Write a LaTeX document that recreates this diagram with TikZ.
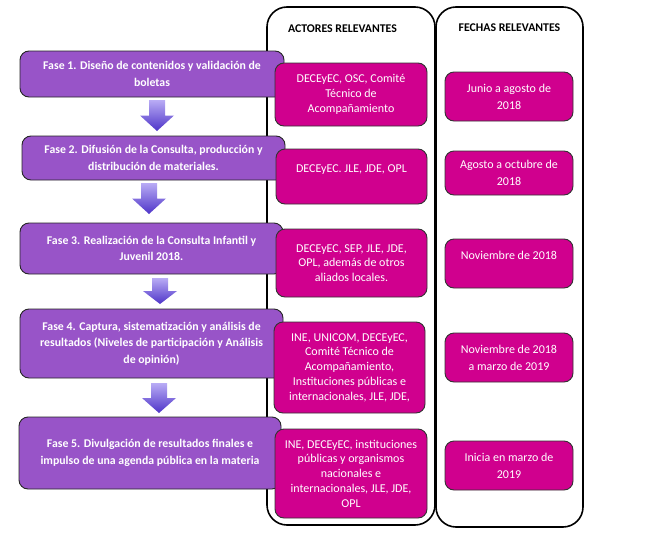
\documentclass[tikz,border=0pt]{standalone}
\usepackage{fontspec}
\setmainfont{Carlito}
\usetikzlibrary{calc}
\definecolor{fasepurple}{RGB}{152,84,200}
\definecolor{actmag}{RGB}{208,0,142}
\definecolor{arrtop}{RGB}{185,172,245}
\definecolor{arrbot}{RGB}{78,52,200}
\tikzset{
  fasebox/.style={draw=black!85, line width=0.9pt, fill=fasepurple, rounded corners=9pt,
    text=white, font=\fontsize{11.8}{16.5}\selectfont\bfseries, align=center, inner sep=0pt},
  magbox/.style={draw=black!80, line width=0.9pt, fill=actmag, rounded corners=9pt,
    text=white, font=\fontsize{12}{14.8}\selectfont, align=center, inner sep=0pt},
  datebox/.style={magbox, font=\fontsize{12}{17}\selectfont, minimum width=128pt},
  colbox/.style={draw=black, line width=1.6pt, fill=white, rounded corners=20pt, inner sep=0pt},
  headtext/.style={font=\fontsize{11.8}{14}\selectfont\bfseries, text=black, inner sep=0pt},
  blockarr/.style={top color=arrtop, bottom color=arrbot, draw=none},
}
\newcommand\blkarrow[3]{% cx, top, bottom
  \pgfmathsetmacro\hy{#2+0.5*(#3-#2)}
  \shade[blockarr] (#1-8,#2) -- (#1+8,#2) -- (#1+8,\hy) -- (#1+17,\hy) -- (#1,#3)
    -- (#1-17,\hy) -- (#1-8,\hy) -- cycle;}
\begin{document}
\begin{tikzpicture}[x=1pt,y=-1pt]
\useasboundingbox (0,0) rectangle (651,533);
% columns
\node[colbox, minimum width=168pt, minimum height=518pt] (colA) at (351,266) {};
\node[colbox, minimum width=147pt, minimum height=520pt] (colF) at (509.5,267) {};
\node[headtext] (hA) at (342.5,29) {ACTORES RELEVANTES};
\node[headtext] (hF) at (509.5,28) {FECHAS RELEVANTES};
% fases
\node[fasebox, minimum width=264pt, minimum height=46pt] (f1) at (152,74)
  {Fase 1. Diseño de contenidos y validación de\\ boletas};
\node[fasebox, minimum width=263pt, minimum height=44pt] (f2) at (153.5,158)
  {Fase 2. Difusión de la Consulta, producción y\\ distribución de materiales.};
\node[fasebox, minimum width=263pt, minimum height=51pt] (f3) at (151.5,248.5)
  {Fase 3. Realización de la Consulta Infantil y\\ Juvenil 2018.};
\node[fasebox, minimum width=263pt, minimum height=69pt] (f4) at (151.5,343.5)
  {Fase 4. Captura, sistematización y análisis de\\ resultados (Niveles de participación y Análisis\\ de opinión)};
\node[fasebox, minimum width=262pt, minimum height=72pt] (f5) at (150,453)
  {Fase 5. Divulgación de resultados finales e\\ impulso de una agenda pública en la materia};
% arrows
\blkarrow{157}{100}{131}
\blkarrow{149}{183}{214}
\blkarrow{160}{278}{304}
\blkarrow{159}{383}{413}
% actores
\node[magbox, minimum width=152pt, minimum height=63pt] (a1) at (351,94.5)
  {DECEyEC, OSC, Comité\\ Técnico de\\ Acompañamiento};
\node[magbox, minimum width=151pt, minimum height=55pt] (a2) at (351.5,176.5)
  {DECEyEC. JLE, JDE, OPL\\ \mbox{}};
\node[magbox, minimum width=151pt, minimum height=68pt] (a3) at (351.5,263)
  {DECEyEC, SEP, JLE, JDE,\\ OPL, además de otros\\ aliados locales.};
\node[magbox, minimum width=151pt, minimum height=91pt] (a4) at (349.5,367.5)
  {INE, UNICOM, DECEyEC,\\ Comité Técnico de\\ Acompañamiento,\\ Instituciones públicas e\\ internacionales, JLE, JDE,};
\node[magbox, minimum width=152pt, minimum height=89pt] (a5) at (351,473.5)
  {INE, DECEyEC, instituciones\\ públicas y organismos\\ nacionales e\\ internacionales, JLE, JDE,\\ OPL};
% fechas
\node[datebox, minimum height=49pt] (d1) at (509,96.5)
  {Junio a agosto de\\ 2018};
\node[datebox, minimum height=44pt] (d2) at (509,173)
  {Agosto a octubre de\\ 2018};
\node[datebox, minimum height=49pt] (d3) at (509,263.5)
  {Noviembre de 2018\\ \mbox{}};
\node[datebox, minimum height=49pt] (d4) at (509,357.5)
  {Noviembre de 2018\\ a marzo de 2019};
\node[datebox, minimum height=49pt] (d5) at (509,465.5)
  {Inicia en marzo de\\ 2019};
\end{tikzpicture}
\end{document}
